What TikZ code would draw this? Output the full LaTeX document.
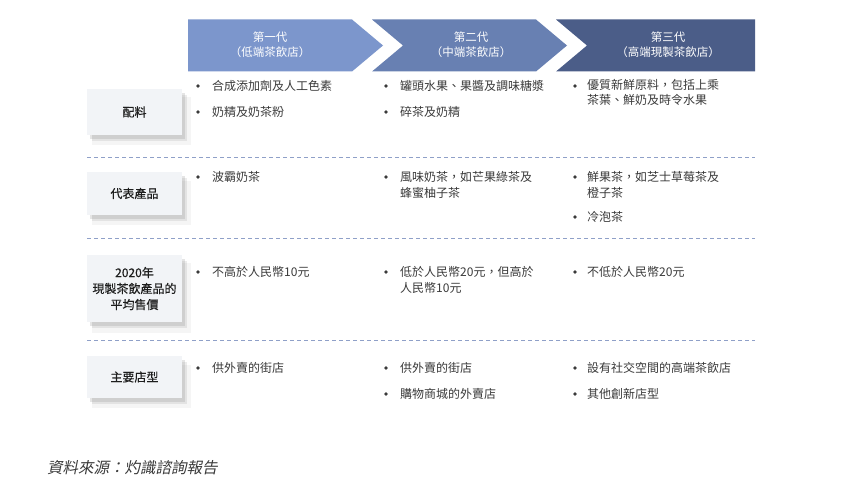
\documentclass[tikz,border=0pt]{standalone}
\usepackage{fontspec}
\setmainfont{Noto Sans CJK TC}
\newfontfamily\srcfont[FakeSlant=0.2]{Noto Sans CJK TC}
\newfontfamily\lblfont[FakeBold=0.3]{Noto Sans CJK TC}
\usetikzlibrary{shadows}
\definecolor{genA}{RGB}{124,150,204}
\definecolor{genB}{RGB}{104,128,178}
\definecolor{genC}{RGB}{75,93,136}
\definecolor{boxgray}{RGB}{242,244,247}
\definecolor{labelgray}{RGB}{30,30,30}
\definecolor{bodygray}{RGB}{58,58,58}
\definecolor{sepblue}{RGB}{143,160,200}
\begin{document}
\begin{tikzpicture}[x=1pt,y=-1pt,font=\fontsize{12}{15.5}\selectfont,
	hdr/.style={text=white,align=center,font=\fontsize{11.5}{15.5}\selectfont},
	rowbox/.style={fill=boxgray,minimum width=95pt,align=center,text=labelgray,
		font=\lblfont\fontsize{12}{16}\selectfont,
		drop shadow={shadow xshift=7pt,shadow yshift=-9pt,opacity=0.08,shadow scale=1.04},
		drop shadow={shadow xshift=5pt,shadow yshift=-6pt,opacity=0.15},
		drop shadow={shadow xshift=3pt,shadow yshift=-4pt,opacity=0.2}},
	item/.style={anchor=west,inner sep=0pt,text=bodygray,align=left},
	sep/.style={sepblue,dash pattern=on 4pt off 3pt,line width=0.8pt}]
	\fill[white] (0,0) rectangle (844,492);
	\useasboundingbox (0,0) rectangle (844,492);
	% header chevrons
	\fill[genA] (188,19.5) -- (352,19.5) -- (383,45.5) -- (352,71.5) -- (188,71.5) -- cycle;
	\fill[genB] (372,19.5) -- (536,19.5) -- (567,45.5) -- (536,71.5) -- (372,71.5) -- (403,45.5) -- cycle;
	\fill[genC] (556,19.5) -- (755,19.5) -- (755,71.5) -- (556,71.5) -- (587,45.5) -- cycle;
	\node[hdr](g1) at (270,44.5) {第一代\\（低端茶飲店）};
	\node[hdr](g2) at (471,44.5) {第二代\\（中端茶飲店）};
	\node[hdr](g3) at (668,44.5) {第三代\\（高端現製茶飲店）};
	% row labels
	\node[rowbox,minimum height=46pt](ingr) at (134.5,112) {配料};
	\node[rowbox,minimum height=43pt](prod) at (134.5,193.5) {代表產品};
	\node[rowbox,minimum height=67pt](price) at (134.5,288.5) {2020年\\現製茶飲產品的\\平均售價};
	\node[rowbox,minimum height=42pt](shop) at (134.5,377) {主要店型};
	% separators
	\draw[sep] (87,157) -- (755,157);
	\draw[sep] (87,238) -- (755,238);
	\draw[sep] (87,340) -- (755,340);
	% items
	\node[item](i11) at (212,86) {合成添加劑及人工色素};
	\node[item](i12) at (212,112) {奶精及奶茶粉};
	\node[item](i21) at (400,86) {罐頭水果、果醬及調味糖漿};
	\node[item](i22) at (400,112) {碎茶及奶精};
	\node[item](i31) at (587,92.5) {優質新鮮原料，包括上乘\\茶葉、鮮奶及時令水果};
	\node[item](p11) at (212,177) {波霸奶茶};
	\node[item](p21) at (400,184.75) {風味奶茶，如芒果綠茶及\\蜂蜜柚子茶};
	\node[item](p31) at (587,184.75) {鮮果茶，如芝士草莓茶及\\橙子茶};
	\node[item](p32) at (587,217) {冷泡茶};
	\node[item](a11) at (212,272) {不高於人民幣10元};
	\node[item](a21) at (400,279.75) {低於人民幣20元，但高於\\人民幣10元};
	\node[item](a31) at (587,272) {不低於人民幣20元};
	\node[item](s11) at (212,368) {供外賣的街店};
	\node[item](s21) at (400,368) {供外賣的街店};
	\node[item](s22) at (400,394) {購物商城的外賣店};
	\node[item](s31) at (587,368) {設有社交空間的高端茶飲店};
	\node[item](s32) at (587,394) {其他創新店型};
	\foreach \bx/\by in {198/86,198/112,386/86,386/112,575/86,
		198/177,386/177,575/177,575/217,
		198/272,386/272,575/272,
		198/368,386/368,386/394,575/368,575/394}
		\fill[bodygray] (\bx,\by) circle (1.8pt);
	% source
	\node[anchor=west,inner sep=0pt,text=bodygray,font=\srcfont\fontsize{15.5}{18}\selectfont](src) at (47,468) {資料來源：灼識諮詢報告};
\end{tikzpicture}
\end{document}
